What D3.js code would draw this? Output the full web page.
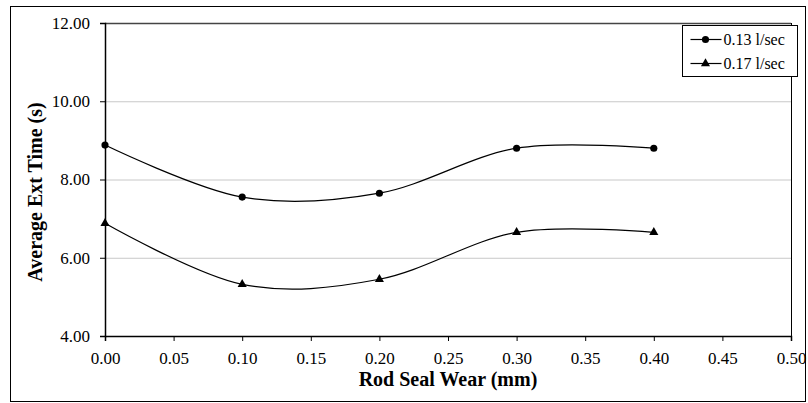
<!DOCTYPE html>
<html>
<head>
<meta charset="utf-8">
<script src="https://cdn.jsdelivr.net/npm/d3@7"></script>
<style>
  body { margin: 0; background: #fff; }
</style>
</head>
<body>
<svg id="chart" width="808" height="403"></svg>
<script>
const width = 808;
const height = 403;
const serif = '"Liberation Serif", "Times New Roman", serif';

// data
const wear = [0.0, 0.1, 0.2, 0.3, 0.4];
const flow013 = [8.88, 7.55, 7.65, 8.80, 8.80];
const flow017 = [6.88, 5.32, 5.45, 6.65, 6.65];
const seriesNames = ["0.13 l/sec", "0.17 l/sec"];
const xTicks = [0, 0.05, 0.1, 0.15, 0.2, 0.25, 0.3, 0.35, 0.4, 0.45, 0.5];
const yTicks = [4, 6, 8, 10, 12];

const margin = { left: 105, right: 17, top: 23, bottom: 67 };

const svg = d3.select("#chart");

// outer chart border
svg.append("rect")
    .attr("x", 10.5).attr("y", 6.5)
    .attr("width", width - 13).attr("height", height - 8)
    .attr("fill", "none").attr("stroke", "#000").attr("stroke-width", 1);

const x = d3.scaleLinear().domain([0, 0.5]).range([margin.left, width - margin.right]);
const y = d3.scaleLinear().domain([4, 12]).range([height - margin.bottom, margin.top]);

// gridlines
svg.append("g")
    .selectAll("line")
    .data(yTicks.filter(d => d > 4 && d < 12))
    .enter()
    .append("line")
    .attr("x1", x(0)).attr("x2", x(0.5))
    .attr("y1", d => y(d) + 0.5).attr("y2", d => y(d) + 0.5)
    .attr("stroke", "#c8c8c8");

// plot frame: top grey, right black
svg.append("line")
    .attr("x1", x(0)).attr("x2", x(0.5))
    .attr("y1", y(12) + 0.5).attr("y2", y(12) + 0.5)
    .attr("stroke", "#444").attr("stroke-width", 1.5);
svg.append("line")
    .attr("x1", x(0.5) + 0.5).attr("x2", x(0.5) + 0.5)
    .attr("y1", y(12)).attr("y2", y(4))
    .attr("stroke", "#000");

const xAxis = svg.append("g")
    .attr("transform", `translate(0,${y(4)})`)
    .call(d3.axisBottom(x).tickValues(xTicks).tickFormat(d3.format(".2f")).tickSizeOuter(0).tickSize(5).tickPadding(11));
const yAxis = svg.append("g")
    .attr("transform", `translate(${x(0)},0)`)
    .call(d3.axisLeft(y).tickValues(yTicks).tickFormat(d3.format(".2f")).tickSizeOuter(0).tickSize(5).tickPadding(10));

[xAxis, yAxis].forEach(a => {
    a.attr("font-family", null).attr("font-size", null);
    a.select(".domain").attr("stroke", "#000").attr("stroke-width", 1.5);
    a.selectAll(".tick line").attr("stroke", "#000");
    a.selectAll("text")
        .style("font-family", serif)
        .style("font-size", "17px")
        .attr("fill", "#000");
});

// axis titles
svg.append("text")
    .attr("x", (x(0) + x(0.5)) / 2).attr("y", 386)
    .attr("text-anchor", "middle")
    .style("font-family", serif)
    .style("font-size", "20px").style("font-weight", "bold")
    .text("Rod Seal Wear (mm)");

svg.append("text")
    .attr("transform", `translate(42,192) rotate(-90)`)
    .attr("text-anchor", "middle")
    .style("font-family", serif)
    .style("font-size", "20px").style("font-weight", "bold")
    .text("Average Ext Time (s)");

// smooth lines like Excel
const line = d3.line()
    .x(d => x(d[0]))
    .y(d => y(d[1]))
    .curve(d3.curveCatmullRom.alpha(0));

const series = [
    { name: seriesNames[0], values: d3.zip(wear, flow013), symbol: d3.symbolCircle, size: 40 },
    { name: seriesNames[1], values: d3.zip(wear, flow017), symbol: d3.symbolTriangle, size: 36 }
];

series.forEach(s => {
    svg.append("path")
        .attr("d", line(s.values))
        .attr("fill", "none").attr("stroke", "#000").attr("stroke-width", 1.2);
    svg.append("g")
        .selectAll("path")
        .data(s.values)
        .enter()
        .append("path")
        .attr("transform", d => `translate(${x(d[0])},${y(d[1])})`)
        .attr("d", d3.symbol().type(s.symbol).size(s.size))
        .attr("fill", "#000");
});

// legend
const legend = svg.append("g").attr("transform", "translate(682.5,25.5)");
legend.append("rect")
    .attr("width", 115).attr("height", 51)
    .attr("fill", "#fff").attr("stroke", "#000");
series.forEach((s, i) => {
    const ly = 14 + i * 24;
    legend.append("line")
        .attr("x1", 8).attr("x2", 39).attr("y1", ly).attr("y2", ly)
        .attr("stroke", "#000").attr("stroke-width", 1.2);
    legend.append("path")
        .attr("transform", `translate(23,${ly})`)
        .attr("d", d3.symbol().type(s.symbol).size(s.size))
        .attr("fill", "#000");
    legend.append("text")
        .attr("x", 41).attr("y", ly + 5)
        .style("font-family", serif)
        .style("font-size", "16px")
        .text(s.name);
});
</script>
</body>
</html>
